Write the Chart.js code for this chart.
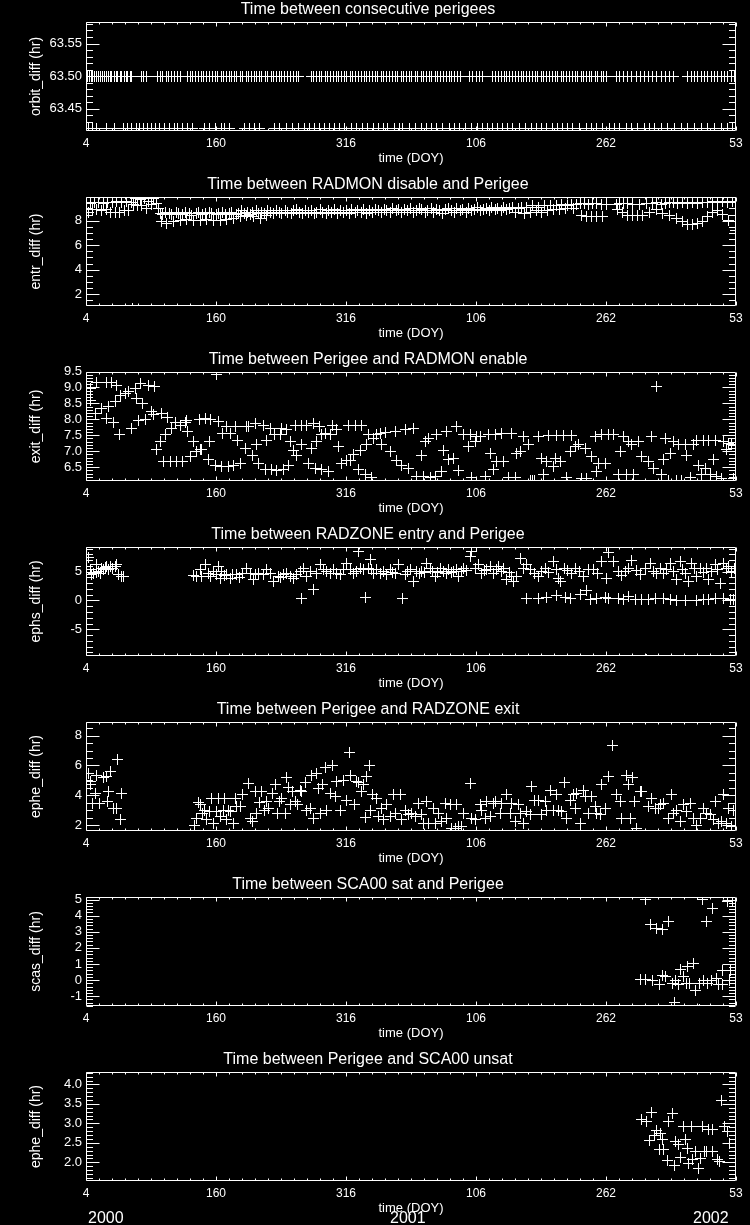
<!DOCTYPE html>
<html>
<head>
<meta charset="utf-8">
<script src="https://cdn.jsdelivr.net/npm/chart.js@4.4.0/dist/chart.umd.min.js"></script>
<style>
  body { margin: 0; background: #000; width: 750px; height: 1225px; position: relative; overflow: hidden;
         font-family: "Liberation Sans", Arial, sans-serif; }
  .panel { position: absolute; left: 0; width: 750px; height: 175px; }
  .year { position: absolute; top: 1209px; color: #fff; font-size: 16px; line-height: 18px; }
</style>
</head>
<body>
<div class="panel" style="top:0px"><canvas id="c0" width="750" height="175"></canvas></div>
<div class="panel" style="top:175px"><canvas id="c1" width="750" height="175"></canvas></div>
<div class="panel" style="top:350px"><canvas id="c2" width="750" height="175"></canvas></div>
<div class="panel" style="top:525px"><canvas id="c3" width="750" height="175"></canvas></div>
<div class="panel" style="top:700px"><canvas id="c4" width="750" height="175"></canvas></div>
<div class="panel" style="top:875px"><canvas id="c5" width="750" height="175"></canvas></div>
<div class="panel" style="top:1050px"><canvas id="c6" width="750" height="175"></canvas></div>
<div class="year" style="left:88px">2000</div>
<div class="year" style="left:390px">2001</div>
<div class="year" style="left:693px">2002</div>
<script>
// x axis: days counted from 2000 DOY 4 (0) to 2002 DOY 53 (780)
const dayTicks = [0, 156, 312, 468, 624, 780];
const dayLabels = ["4", "160", "316", "106", "262", "53"];

// --- orbit_diff: two rows of points
const orbitTopY = 63.50;
const orbitTopX = [2,4,6,8,10,13,15,17,20,22,24,27,29,31,34,36,38,41,43,46,48,50,53,55,66,69,72,
  86,89,92,96,99,103,106,110,113,122,125,128,131,135,138,141,145,148,152,155,158,162,165,168,172,175,
  178,181,185,188,192,195,198,202,205,208,211,215,218,222,225,228,232,235,238,242,245,249,252,255,
  270,273,276,280,283,287,290,293,297,300,303,307,310,313,317,320,323,327,330,334,337,340,344,347,
  350,354,357,361,364,368,371,374,378,381,385,388,391,395,398,402,405,408,412,415,419,422,425,429,
  432,436,439,442,446,449,460,464,468,472,476,488,491,495,498,502,505,508,512,515,519,522,525,529,
  532,536,539,542,546,549,553,556,560,563,566,570,573,577,580,584,587,590,594,597,601,604,607,611,
  614,618,621,625,636,640,645,650,655,660,665,670,675,680,685,690,695,700,705,722,726,730,734,738,
  742,746,750,754,758,762,766,770,774,778];
const orbitLowY = 63.420;
const orbitLowX = [3,8,12,25,34,45,50,55,60,64,69,74,78,83,88,94,100,106,110,116,122,128,142,148,155,
  162,166,172,190,196,202,208,226,232,240,248,255,262,268,274,280,286,292,298,304,310,318,325,332,338,
  345,351,357,362,370,376,380,388,395,402,408,415,420,428,436,442,448,455,462,470,476,482,488,494,500,
  506,512,520,527,534,540,546,552,560,566,572,578,584,592,600,606,612,620,628,634,640,648,655,662,670,
  676,682,690,698,706,714,722,730,738,746,754,762,770,776];

// --- entr_diff
const entrPts = [
  [3,8.7],[5,9.4],[8,8.9],[10,9.5],[13,8.9],[15,9.5],[18,8.8],[21,9.4],[24,8.9],[26,9.5],[29,8.7],[32,9.5],
  [35,8.7],[37,9.6],[40,8.7],[43,9.5],[46,8.8],[48,9.6],[51,8.8],[54,9.5],[56,0.8],[57,9.3],[59,9.8],[62,9.2],
  [65,9.7],[67,9.2],[70,9.8],[73,9.0],[75,9.6],[78,9.3],[81,9.8],[84,9.4],[87,9.0],
  [89,8.6],[92,8.5],[95,8.7],[100,8.6],[103,8.5],[108,8.7],[111,8.6],[116,8.5],[119,8.7],[124,8.6],[127,8.4],
  [132,8.6],[135,8.7],[140,8.5],[143,8.6],[148,8.7],[151,8.6],[156,8.5],[159,8.6],[164,8.7],[167,8.5],
  [172,8.6],[175,8.7],[180,8.5],
  [91,7.9],[97,7.8],[105,7.9],[113,8.0],[121,8.1],[129,8.0],[137,8.05],[145,8.1],[153,8.0],[161,8.05],
  [169,8.1],[177,8.2],[185,8.3],[193,8.4],[201,8.3],[209,8.2],[217,8.4],
  [183,8.6],[186,8.8],[190,8.6],[194,8.7],[197,8.5],[200,8.7],[204,8.8],[207,8.6],[211,8.7],[214,8.6],
  [218,8.8],[221,8.7],[225,8.6],[228,8.8],[232,8.7],[235,8.6],[239,8.8],[242,8.7],[246,8.6],[249,8.8],
  [253,8.9],[256,8.7],[260,8.6],[263,8.8],[267,8.7],[270,8.8],[274,8.6],[277,8.7],[281,8.9],[284,8.7],
  [288,8.6],[291,8.8],[295,8.7],[298,8.9],[302,8.6],[305,8.8],[309,8.7],[312,8.8],[316,8.6],[319,8.9],
  [323,8.7],[326,8.8],[330,8.7],[333,8.9],[337,8.6],[340,8.8],[344,8.7],[347,8.9],[351,8.8],[354,8.7],
  [358,8.9],[361,8.8],[365,8.7],[368,9.0],[372,8.8],[375,8.9],[379,8.7],[382,8.9],[386,8.8],[389,9.0],
  [393,8.7],[396,8.8],[400,9.0],[403,8.9],[407,8.7],[410,8.8],[414,9.0],[417,8.7],[421,8.9],[424,8.8],
  [428,8.6],[431,8.9],[435,9.0],[438,8.8],[442,8.7],[445,9.0],[449,8.8],[452,8.9],[456,8.7],[459,9.0],
  [463,8.8],[466,8.9],[470,9.1],[473,8.8],[477,8.9],[480,9.0],[484,8.8],[487,9.1],[491,8.9],[494,9.0],
  [498,8.8],[501,9.1],[505,8.9],[508,9.0],[512,9.1],[515,8.7],[519,9.0],[522,9.1],[526,8.6],[529,9.1],
  [533,8.7],[536,9.2],[540,8.8],[543,9.1],[547,8.7],[550,9.2],[554,8.8],[557,9.2],[561,8.9],[564,9.2],
  [568,8.9],[571,9.3],[575,9.0],[578,9.2],[582,9.3],[585,9.0],[589,9.3],
  [593,9.4],[598,9.4],[603,9.3],[608,9.4],[613,9.4],[618,9.3],[624,9.3],[636,9.3],[640,9.4],[645,9.4],
  [650,9.4],[656,9.3],[664,9.3],[672,9.4],[680,9.4],[685,9.5],[690,9.3],[695,9.4],[700,9.5],[705,9.5],
  [710,9.4],[716,9.5],[722,9.4],[728,9.5],[734,9.4],[740,9.5],[746,9.5],[752,9.6],[758,9.5],[764,9.6],
  [770,9.5],[776,9.6],[779,9.5],
  [594,8.4],[600,8.3],[606,8.3],[612,8.3],[620,8.3],[638,8.9],[644,8.7],[650,8.4],[656,8.4],[662,8.4],
  [668,8.45],[676,8.7],[684,8.9],[692,8.6],[700,8.4],[708,8.2],[716,7.9],[722,7.7],[728,7.7],[734,7.75],
  [740,7.9],[746,8.3],[752,8.7],[758,8.8],[764,8.5],[771,8.0],[779,7.2]
];

// --- exit_diff
const exitPts = [
  [4.8,8.97],[5.6,8.6],[10.8,8.19],[12.8,9.16],[18,8.34],[24,9.15],[24,8.03],[26.8,8.4],[30.8,9.15],
  [32.8,7.9],[34.8,8.55],[36.8,9.07],[40,7.53],[40.8,8.76],[46.8,8.81],[50.8,8.86],[54.8,7.72],[58.8,8.97],
  [60.8,8.66],[62.8,7.95],[64.8,9.12],[68,8.5],[70.8,7.98],[74.8,9.07],[78,8.24],[80.8,8.14],[82,9.02],
  [84.8,7.04],[88.8,7.3],[90,8.19],[92.8,6.68],[94.8,7.51],[98,8.05],[100.8,6.68],[102.8,7.72],[106.8,7.9],
  [108.8,6.68],[112.8,7.82],[116,6.68],[118.8,7.9],[120.8,7.95],[122,7.61],[124.8,6.83],[128.8,7.3],
  [132.8,6.99],[136,7.98],[136.8,7.07],[138.8,7.04],[142.8,8.03],[146.8,6.73],[148,7.3],[149.6,7.98],
  [154.8,6.57],[156.8,9.41],[158.8,7.93],[162.8,6.52],[164,7.56],[168,7.77],[170.8,6.52],[172.8,7.56],
  [176.8,6.57],[178.8,7.77],[181.6,7.35],[184.8,6.62],[190.8,7.09],[192,7.77],[194.8,7.77],[199.6,6.88],
  [202.8,7.87],[204.8,7.2],[206.8,6.62],[212.8,7.8],[214.8,6.42],[216.8,7.35],[220.8,7.72],[222.8,6.42],
  [226,7.51],[228.8,6.39],[232.8,7.51],[234.8,7.72],[236.8,6.42],[240,7.67],[242.8,6.57],[244.8,7.3],
  [248.8,7.01],[251.6,7.82],[252.8,6.88],[258.8,7.82],[258.8,7.2],[264.8,7.82],[266.8,6.62],[270.8,7.09],
  [272.8,7.87],[274.8,6.47],[276.8,7.3],[280,7.77],[282.8,6.42],[282.8,7.53],[286.8,7.56],[290.8,6.36],
  [292.8,7.53],[296,7.82],[300.8,7.67],[302.8,7.15],[306.8,6.62],[312.8,6.7],[314.8,7.82],[316.8,6.7],
  [320.8,6.9],[322.8,7.82],[326.8,6.42],[328.8,7.01],[330.8,7.82],[334.8,6.26],[336.8,7.2],[338.8,7.53],
  [342.8,6.18],[344.8,7.4],
  [348.8,7.51],[352.8,7.56],[354.8,7.22],[358.8,7.59],[364.8,6.99],[370.8,7.63],[372.8,6.7],[378,6.57],
  [382.8,7.67],[386.8,6.47],[392.8,7.72],[396.8,6.21],[402.8,6.88],[404.8,6.21],[406.8,7.3],[410.8,7.41],
  [412.8,6.18],[418.8,6.21],[420.8,7.53],[426.8,6.36],[428.8,7.01],[432.8,7.63],[434.8,6.73],[440.8,6.78],
  [444.8,7.77],[446.8,6.39],[452.8,7.53],[458.8,7.15],[460.8,7.51],[462.8,6.18],[466.8,7.3],[468.8,7.46],
  [472.8,7.46],[478.8,6.21],[482.8,7.51],[484.8,6.94],[488.8,6.42],[490.8,7.53],[492.8,6.68],[498.8,7.56],
  [500.8,6.68],[506.8,6.18],[510.8,7.56],[514.8,6.18],[516.8,6.94],[520.8,6.99],[524.8,7.46],[530.8,7.2],
  [532.8,6.1],[536,6.1],[538,6.1],[542.8,7.46],[546.8,6.78],[548.8,6.26],[552.8,6.68],[554.8,7.49],
  [560.8,6.52],[562.8,6.78],[564.8,7.49],[568.8,6.68],[572.8,7.49],[576.8,6.18],[580.8,6.99],[582.8,7.49],
  [586.8,7.15],[590.8,7.2],[594.8,6.16],[598.8,7.09],[600.8,6.16],[606.8,6.83],[610.8,7.46],[612.8,6.36],
  [614.8,6.62],[618.8,7.51],[622.8,6.62],[626.8,7.51],[632.8,7.51],[638.8,6.26],[640.8,6.99],[644.8,7.46],
  [648.8,6.26],[650.8,7.3],[654.8,7.22],[656.8,6.26],[662.8,7.3],[666.8,6.83],[674.8,6.68],[678.8,7.46],
  [680.8,6.47],[684.8,9.02],[690.8,6.26],[692.8,6.73],[694.8,7.41],[698.8,6.1],[700.8,6.94],[704.8,7.3],
  [708.8,6.1],[710.8,7.2],[714.8,6.1],[718.8,7.2],[720.8,6.88],[724.8,6.18],[728.8,7.2],[732.8,7.35],
  [734.8,6.57],[738,6.26],[740.8,7.35],[742.8,6.47],[746.8,7.35],[748.8,6.26],[752.8,6.73],[754.8,7.35],
  [756.8,6.21],[762.8,6.16],[764.8,7.3],[768.8,7.04],[770.8,7.25],[774.8,7.2],[776.8,6.16]
];

// --- ephs_diff
const ephsPts = [
  [3,7.5],[5,5.3],[7,4.5],[9,4.7],[12,6.2],[13,4.9],[15,5.0],[17,4.7],[19,5.5],[21,5.3],[23,5.8],[24,5.9],
  [27,5.4],[29,5.9],[32,5.6],[35,5.9],[37,6.2],[39,4.45],[43,4.2],[45,4.2],
  [129,4.27],[133,4.16],[137,5.3],[139,4.2],[143,6.2],[147,4.7],[149,4.16],[153,5.0],[156,4.5],[159,5.9],
  [161,3.87],[163,5.0],[166,4.3],[169,4.45],[173,3.87],[176,4.5],[181,4.45],[184,4.0],[188,4.74],[193,5.6],
  [197,4.74],[201,3.58],[203,4.45],[207,4.74],[213,4.45],[217,5.3],[221,4.74],[225,3.29],[231,4.16],
  [233,4.04],[237,4.45],[241,4.74],[245,4.16],[249,3.87],[253,4.45],[257,5.03],[259,0.4],[261,5.6],
  [265,4.16],[269,5.03],[273,1.96],[277,4.74],[281,6.18],[285,5.3],[289,5.03],[293,4.74],[297,5.31],
  [301,4.74],[305,4.45],[309,5.31],[313,6.47],[317,5.31],[321,4.74],[325,5.0],[327,8.5],[329,5.6],[333,5.31],
  [335,0.58],[339,5.6],[341,7.05],[343,5.31],[345,4.74],
  [349,5.3],[353,4.7],[357,5.0],[361,4.45],[365,5.3],[368,4.9],[371,4.74],[375,6.2],[380,0.4],[383,4.45],
  [386,5.0],[389,5.3],[393,3.29],[397,5.03],[400,4.6],[403,5.03],[406,4.8],[409,6.35],[413,5.6],[416,5.0],
  [419,4.16],[422,4.8],[425,5.6],[429,5.03],[432,4.6],[435,5.31],[438,4.9],[441,5.03],[444,5.4],[447,4.16],
  [450,5.0],[453,5.6],[457,5.2],[461,7.7],[463,8.5],[467,5.6],[471,6.18],[475,4.74],[478,5.2],[481,5.31],
  [485,5.89],[489,4.74],[492,5.3],[495,5.89],[498,5.0],[501,5.6],[505,3.58],[508,4.8],[511,4.16],[513,3.29],
  [517,4.16],[521,7.2],[525,5.6],[529,6.2],[533,5.3],[538,4.6],[543,4.2],[547,5.0],[551,5.6],[555,4.8],
  [561,6.8],[564,5.3],[567,3.9],[569,3.3],[574,5.6],[578,5.2],[583,4.7],[587,5.6],[592,5.0],[597,4.2],
  [603,5.3],[609,5.4],[614,4.6],[619,6.8],[625,3.9],[627,8.4],[633,6.8],[639,5.0],[643,4.4],[647,5.0],
  [651,5.6],[655,6.9],[660,5.2],[665,4.45],[671,5.6],[677,6.35],[681,5.0],[685,4.7],[689,5.6],[693,4.7],
  [697,5.3],[701,6.35],[705,5.0],[709,3.7],[713,6.8],[716,5.3],[719,4.74],[723,3.3],[727,6.5],[730,5.6],
  [733,4.2],[737,5.6],[741,4.8],[745,5.6],[747,3.6],[751,5.0],[755,6.2],[758,5.3],[761,2.9],[765,6.5],
  [768,5.6],[771,5.9],[775,5.0],[778,5.6],
  [529,0.3],[543,0.4],[553,0.6],[565,0.8],[575,0.6],[581,0.3],[593,1.0],[601,1.7],[605,0.2],[613,0.3],
  [623,0.6],[627,0.3],[639,0.4],[645,0.1],[651,0.7],[659,0.2],[667,0.2],[672,-10.2],[675,0.1],[683,0.4],
  [693,0.4],[701,0.1],[709,0.0],[719,0.0],[733,0.0],[741,0.1],[747,0.2],[755,0.4],[765,0.4],[773,0.1],
  [777,0.2]
];

// --- ephe_diff (RADZONE exit)
const ephePts = [
  [2.8,5.47],[4.8,4.91],[5.6,4.69],[8,3.46],[10.8,4.13],[12.8,5.36],[16,3.46],[20.8,5.18],[24,5.25],
  [25.6,3.57],[26.8,4.24],[29.6,5.58],[32.8,3.12],[36,3.12],[37.6,6.37],[40.8,2.34],[42.8,4.13],
  [130,2.0],[132.8,2.41],[134.8,3.53],[137.6,3.35],[140,2.79],[141.6,3.01],[144.8,2.34],[148,2.9],
  [150.8,3.79],[152.8,2.12],[156.8,2.9],[158.8,3.79],[160.8,2.56],[164.8,3.01],[165.6,3.79],[168.8,2.34],
  [170.8,3.01],[172.8,2.9],[176.8,2.12],[178.8,3.79],[180.8,3.24],[185.6,3.24],[188,4.02],[194.8,4.8],
  [197.6,2.45],[200,2.23],[202.8,4.24],[204.8,2.79],[208,3.53],[210.8,4.24],[214,3.01],[216.8,3.57],
  [218.8,3.12],[224,4.13],[226.8,4.73],[229.6,2.79],[232,3.57],[234.8,3.79],[238.8,2.79],[240.8,5.18],
  [242.8,4.51],[245.6,3.35],[248,4.24],[250.8,3.57],[253.6,3.35],[256.8,4.35],[258.8,4.24],[262.8,4.87],
  [264.8,3.01],[268.8,3.12],[270.8,5.36],[272.8,2.41],[276,5.47],[278.8,4.47],[280.8,2.79],[284,4.69],
  [286.8,5.85],[288.8,3.01],[292.8,4.13],[296,5.99],[298.8,3.91],[300.8,4.91],[304.8,3.01],[308.8,5.02],
  [312.8,3.68],[316,6.88],[317.6,5.32],[321.6,3.35],[324,4.91],[326.8,4.87],[330.8,4.24],[332.8,4.69],
  [334.8,2.5],[336.8,5.25],[340,6.03],[341.6,3.01],[344,4.02],
  [348.8,3.79],[350.8,2.56],[354.8,3.12],[356.8,2.34],[360.8,3.35],[364.8,2.56],[368.8,4.02],[370.8,2.79],
  [376.8,4.02],[378.8,2.34],[382.8,3.01],[386.8,2.68],[390.8,2.79],[394.8,2.56],[398.8,3.46],[402.8,2.68],
  [404.8,2.12],[408.8,3.57],[410.8,2.12],[416.8,3.12],[418.8,2.12],[422.8,2.79],[426.8,2.23],[430.8,3.46],
  [432.8,2.41],[436.8,3.35],[439,1.8],[442.8,1.78],[444.8,3.35],[446.8,1.89],[450.8,1.89],[452.8,2.79],
  [460.8,4.8],[462.8,2.41],[466.8,2.34],[472.8,3.35],[474.8,3.01],[478.8,2.41],[480.8,3.57],[484.8,2.56],
  [488.8,3.46],[490.8,3.57],[496.8,2.79],[498.8,3.46],[504.8,4.02],[508.8,2.79],[510.8,3.46],[514.8,2.23],
  [518.8,3.35],[520.8,2.79],[524.8,2.12],[528.8,2.9],[532.8,2.68],[534.8,4.58],[538,3.68],[542.8,3.68],
  [546.8,2.68],[550.8,3.57],[552.8,3.01],[556.8,4.35],[560.8,3.01],[564.8,4.02],[566.8,3.01],[570.8,2.9],
  [574,4.87],[576.8,2.41],[580.8,3.68],[584.8,4.02],[586.8,3.12],[588.8,4.13],[592.8,2.12],[596.8,4.35],
  [598.8,3.91],[602.8,2.79],[606,3.91],[610.8,3.24],[612.8,2.79],[616.8,2.68],[618.8,4.69],[622.8,3.12],
  [626.8,5.25],[631.6,7.33],[636.8,4.02],[640.8,3.57],[642.8,2.41],[648.8,5.36],[650.8,4.73],[652.8,2.41],
  [655.6,5.18],[658,3.57],[660.8,1.78],[664.8,4.24],[666.8,4.24],[674.8,3.24],[678.8,3.79],[682.8,3.12],
  [686.8,3.12],[688.8,3.35],[692.8,3.46],[698.8,2.41],[702.8,4.02],[704.8,2.79],[708.8,3.01],[712.8,2.23],
  [716.8,3.35],[720.8,2.9],[724.8,3.46],[728.8,2.41],[732.8,2.0],[736.8,2.41],[740.8,3.12],[744.8,2.79],
  [748.8,2.68],[752.8,2.34],[754.8,3.57],[758.8,2.12],[762.8,2.23],[764.8,4.02],[768.8,2.12],[770.8,3.12],
  [774.8,1.89],[776.8,3.01]
];

// --- scas_diff
const scasPts = [
  [664.8,0.06],[671.6,5.0],[671.6,0.06],[677.4,3.48],[680.3,0.0],[684.3,3.2],[687.8,-0.3],[691.8,3.15],
  [691.8,0.3],[695.8,0.2],[699.3,3.62],[703.2,-0.2],[706.1,-1.4],[707.3,0.0],[710.7,-0.3],[713,0.66],
  [716.4,0.25],[720.5,-0.2],[722.2,0.87],[724.5,-0.2],[729,1.0],[731.9,-0.66],[735.9,-0.2],[736.5,-1.85],
  [739.4,5.0],[740.5,0.0],[745,3.66],[746,-0.2],[750.8,0.0],[751.6,4.45],[756.4,0.1],[758.9,-0.3],
  [763.5,0.62],[764,-0.3],[769.2,4.87],[772,0.0],[773,0.6],[775.2,4.97]
];

// --- ephe_diff (SCA00 unsat)
const unsatPts = [
  [666,3.1],[672.8,3.04],[672,4.45],[676.3,2.56],[678.6,3.27],[681.9,2.68],[684.3,2.81],[687.8,2.33],
  [688.9,2.74],[691.8,2.59],[693,2.32],[697.5,2.04],[699.3,3.04],[703.2,3.26],[706.1,1.93],[707.3,2.53],
  [710.7,2.47],[713,2.13],[716.4,2.93],[718.8,2.59],[722.2,2.36],[723.4,1.97],[726.2,2.93],[727.9,2.06],
  [731.9,2.27],[734.8,1.85],[737.7,2.1],[739.4,2.93],[741.6,2.27],[745,2.27],[747.4,2.85],[751.6,2.85],
  [751.6,2.27],[757.7,2.06],[760.5,2.02],[762.3,3.6],[766.3,2.93],[769.2,2.79],[772,2.49]
];

const FONT = '"Liberation Sans", Arial, sans-serif';
Chart.defaults.color = "#fff";
Chart.defaults.font.family = FONT;

// crisp 1px "+" marker, 11x11
const plusMark = document.createElement("canvas");
plusMark.width = 11;
plusMark.height = 11;
(function () {
    const g = plusMark.getContext("2d");
    g.fillStyle = "#fff";
    g.fillRect(5, 0, 1, 11);
    g.fillRect(0, 5, 11, 1);
})();

// IDL style frame with inward ticks on all four sides
const idlAxes = {
    id: "idlAxes",
    beforeDatasetsDraw(chart) {
        chart.ctx.imageSmoothingEnabled = false;
    },
    afterDraw(chart, args, opts) {
        const { ctx, chartArea: a, scales: { x, y } } = chart;
        const L = a.left + 0.5, R = a.right - 0.5, T = a.top + 0.5, B = a.bottom - 0.5;
        ctx.save();
        ctx.strokeStyle = "#fff";
        ctx.lineWidth = 1;
        ctx.beginPath();
        ctx.rect(L, T, R - L, B - T);

        const st = opts.yStep;
        for (let k = Math.ceil(y.min / st - 1e-6); k * st <= y.max + 1e-9; k++) {
            const v = k * st;
            const major = opts.yMajor.some(m => Math.abs(m - v) < st / 100);
            const len = major ? 13 : 6.5;
            const py = Math.round(y.getPixelForValue(v)) + 0.5;
            ctx.moveTo(L, py); ctx.lineTo(L + len, py);
            ctx.moveTo(R, py); ctx.lineTo(R - len, py);
        }
        for (let k = 0; k <= 50; k++) {
            const px = Math.round(x.getPixelForValue(k * 15.6)) + 0.5;
            const len = k % 10 === 0 ? 4 : 2;
            ctx.moveTo(px, B); ctx.lineTo(px, B - len);
            ctx.moveTo(px, T); ctx.lineTo(px, T + len);
        }
        ctx.stroke();
        ctx.restore();
    }
};

function makePanel(id, title, yTitle, pts, yMin, yMax, yTicks, yLabels, yStep) {
    new Chart(document.getElementById(id), {
        type: "scatter",
        data: {
            datasets: [{
                data: pts.map(p => ({ x: p[0], y: p[1] })),
                pointStyle: plusMark,
                pointRadius: 5,
                borderColor: "#fff",
                backgroundColor: "#fff",
                borderWidth: 1,
                clip: 0
            }]
        },
        options: {
            responsive: false,
            animation: false,
            events: [],
            layout: { padding: { left: 0, right: 14, top: 0, bottom: 0 } },
            plugins: {
                legend: { display: false },
                tooltip: { enabled: false },
                title: {
                    display: true, text: title, color: "#fff",
                    font: { family: FONT, size: 16, weight: "normal" },
                    padding: { top: 0, bottom: 2.8 }
                },
                idlAxes: { yStep: yStep, yMajor: yTicks }
            },
            scales: {
                x: {
                    type: "linear", min: 0, max: 780,
                    grid: { display: false, drawTicks: false },
                    border: { display: false },
                    afterBuildTicks: s => { s.ticks = dayTicks.map(v => ({ value: v })); },
                    afterFit: s => { s.height = 44; },
                    ticks: { autoSkip: false, maxRotation: 0, padding: 5, font: { size: 12 },
                             callback: (v, i) => dayLabels[i] },
                    title: { display: true, text: "time (DOY)", font: { size: 13 }, padding: { top: 0, bottom: 9 } }
                },
                y: {
                    type: "linear", min: yMin, max: yMax,
                    grid: { display: false, drawTicks: false },
                    border: { display: false },
                    afterBuildTicks: s => { s.ticks = yTicks.map(v => ({ value: v })); },
                    afterFit: s => { s.width = 86; },
                    ticks: { autoSkip: false, padding: 4, font: { size: 13 },
                             callback: (v, i) => yLabels[i] },
                    title: { display: true, text: yTitle, font: { size: 14 }, padding: { top: 27.6, bottom: 0 } }
                }
            }
        },
        plugins: [idlAxes]
    });
}

const orbitPts = orbitTopX.map(x => [x, orbitTopY]).concat(orbitLowX.map(x => [x, orbitLowY]));

makePanel("c0", "Time between consecutive perigees", "orbit_diff (hr)", orbitPts,
    63.416, 63.583, [63.45, 63.50, 63.55], ["63.45", "63.50", "63.55"], 0.01);
makePanel("c1", "Time between RADMON disable and Perigee", "entr_diff (hr)", entrPts,
    1.04, 9.93, [2, 4, 6, 8], ["2", "4", "6", "8"], 0.5);
makePanel("c2", "Time between Perigee and RADMON enable", "exit_diff (hr)", exitPts,
    6.07, 9.48, [6.5, 7.0, 7.5, 8.0, 8.5, 9.0, 9.5], ["6.5", "7.0", "7.5", "8.0", "8.5", "9.0", "9.5"], 0.1);
makePanel("c3", "Time between RADZONE entry and Perigee", "ephs_diff (hr)", ephsPts,
    -9.63, 9.28, [-5, 0, 5], ["-5", "0", "5"], 1);
makePanel("c4", "Time between Perigee and RADZONE exit", "ephe_diff (hr)", ephePts,
    1.6, 8.92, [2, 4, 6, 8], ["2", "4", "6", "8"], 0.5);
makePanel("c5", "Time between SCA00 sat and Perigee", "scas_diff (hr)", scasPts,
    -1.61, 5.16, [-1, 0, 1, 2, 3, 4, 5], ["-1", "0", "1", "2", "3", "4", "5"], 0.2);
makePanel("c6", "Time between Perigee and SCA00 unsat", "ephe_diff (hr)", unsatPts,
    1.52, 4.32, [2.0, 2.5, 3.0, 3.5, 4.0], ["2.0", "2.5", "3.0", "3.5", "4.0"], 0.1);
</script>
</body>
</html>
